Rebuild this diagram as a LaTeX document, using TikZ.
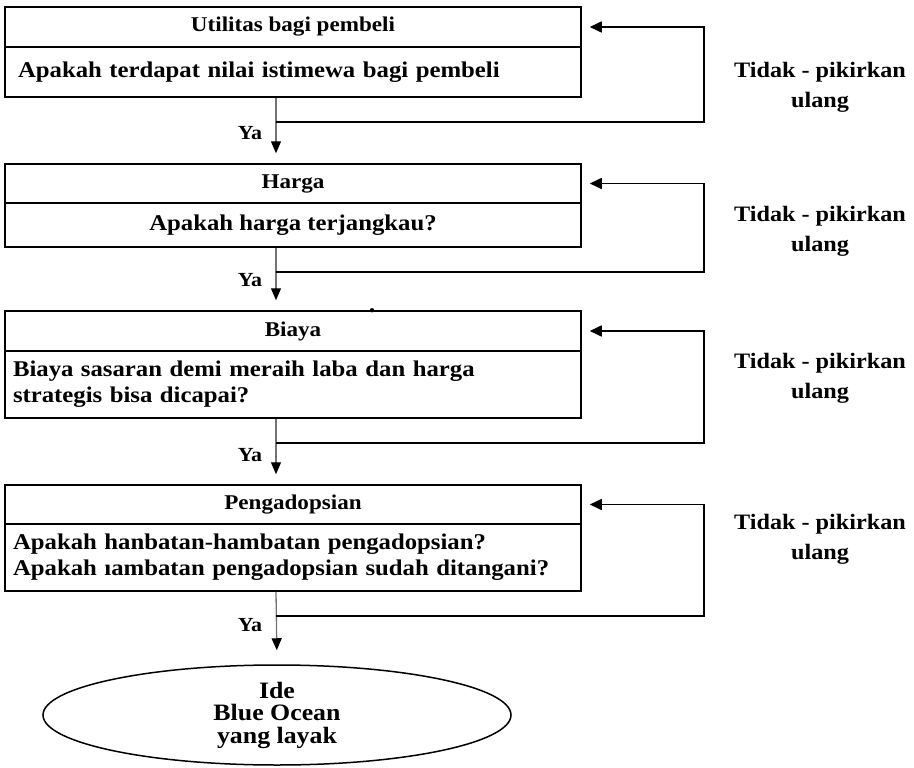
\documentclass[tikz,border=0pt]{standalone}
\usepackage{fontspec}
\setmainfont{Liberation Serif}[FakeStretch=1.1]
\usetikzlibrary{arrows.meta,shapes.geometric,positioning,calc}
\tikzset{
	kotak/.style={draw,line width=1.5pt,minimum width=576pt,inner sep=0pt,font=\fontsize{22.5}{26}\selectfont\bfseries},
	judul/.style={kotak,minimum height=40pt,font=\fontsize{21}{26}\selectfont\bfseries},
	tanya/.style={kotak},
	tanyakiri/.style={kotak,minimum height=67pt,text width=560pt,align=left,inner xsep=8pt},
	ya/.style={draw=black!55,line width=1.3pt,-{Triangle[length=12pt,width=10pt,color=black]},shorten >=10pt},
	balik/.style={line width=1.6pt,-{Triangle[length=12pt,width=11pt]},shorten >=8pt},
	yatext/.style={font=\fontsize{20}{24}\selectfont\bfseries},
	catatan/.style={align=center,font=\fontsize{22}{30}\selectfont\bfseries},
}
\begin{document}
\begin{tikzpicture}[x=1pt,y=-1pt]
	\useasboundingbox (0,0) rectangle (914,768);
	\node[judul] (h1) at (293,27) {Utilitas bagi pembeli};
	\node[tanyakiri,minimum height=50pt,text width=550pt,inner xsep=13pt] (q1) at (293,72) {Apakah terdapat nilai istimewa bagi pembeli};
	\node[judul,minimum height=39pt] (h2) at (293,183.5) {Harga};
	\node[tanya,minimum height=44pt] (q2) at (293,225) {Apakah harga terjangkau?};
	\node[judul] (h3) at (293,331) {Biaya};
	\node[tanyakiri] (q3) at (293,384.5) {Biaya sasaran demi meraih laba dan harga\\strategis bisa dicapai?};
	\node[judul,minimum height=39pt] (h4) at (293,504.5) {Pengadopsian};
	\node[tanyakiri] (q4) at (293,557.5) {Apakah hanbatan-hambatan pengadopsian?\\Apakah ıambatan pengadopsian sudah ditangani?};
	\node[draw,ellipse,line width=1.5pt,minimum width=468pt,minimum height=100pt,inner sep=0pt,align=center,font=\fontsize{23.5}{22.5}\selectfont\bfseries] (ide) at (277,715) {Ide\\Blue Ocean\\yang layak};
	\fill ([xshift=79pt]h3.north) circle (2.2pt);
	% jalur ya
	\foreach \i/\j in {1/2,2/3,3/4}
		\draw[ya] ([xshift=-17pt]q\i.south) -- ([xshift=-17pt]h\j.north);
	\draw[ya,shorten >=14pt] ([xshift=-17pt]q4.south) -- (ide.north);
	% jalur tidak
	\foreach \i in {1,...,4}
		\draw[balik] ([xshift=-17pt,yshift=-24pt]q\i.south) -| ([xshift=122pt]h\i.east) -- (h\i.east);
	\node[yatext] (ya1) at (250,133) {Ya};
	\node[yatext] (ya2) at (250,280) {Ya};
	\node[yatext] (ya3) at (250,455) {Ya};
	\node[yatext] (ya4) at (250,625) {Ya};
	\node[catatan] (tdk1) at (820,87) {Tidak - pikirkan\\ulang};
	\node[catatan] (tdk2) at (820,231) {Tidak - pikirkan\\ulang};
	\node[catatan] (tdk3) at (820,378) {Tidak - pikirkan\\ulang};
	\node[catatan] (tdk4) at (820,539) {Tidak - pikirkan\\ulang};
\end{tikzpicture}
\end{document}
